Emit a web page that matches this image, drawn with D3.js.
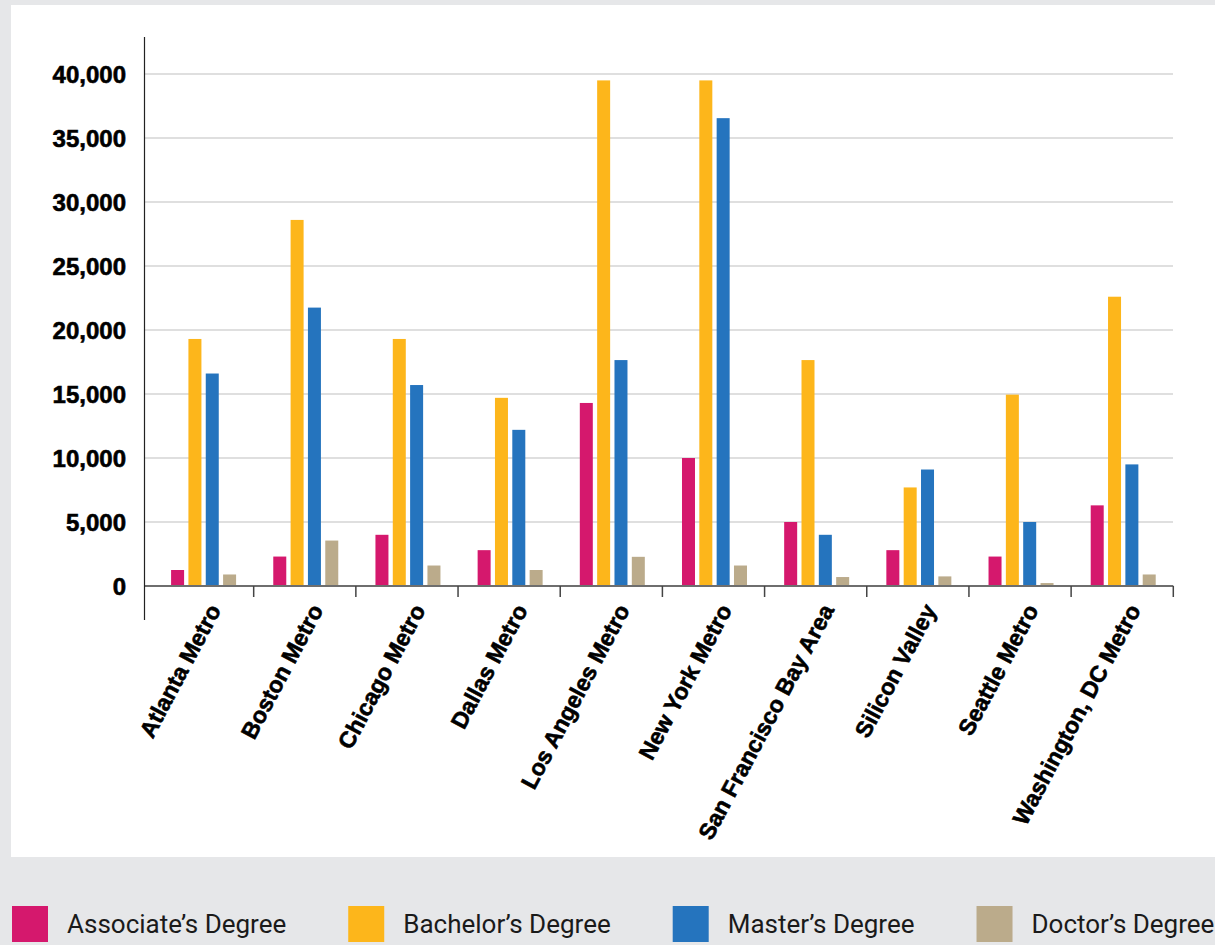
<!DOCTYPE html>
<html>
<head>
<meta charset="utf-8">
<title>Degrees by metro</title>
<style>
body {
  margin: 0;
  background: #e6e7e9;
}
.ylab, .xlab {
  font-family: "Liberation Sans", Arial, sans-serif;
  font-weight: bold;
  fill: #000;
  stroke: #000;
  stroke-width: 0.6px;
}
.leg {
  font-family: Roboto, "Noto Sans", sans-serif;
  fill: #1a1a1a;
}
</style>
<script src="https://d3js.org/d3.v7.min.js"></script>
</head>
<body>
<script>
var categories = ["Atlanta Metro", "Boston Metro", "Chicago Metro", "Dallas Metro",
  "Los Angeles Metro", "New York Metro", "San Francisco Bay Area", "Silicon Valley",
  "Seattle Metro", "Washington, DC Metro"];
var series = ["Associate’s Degree", "Bachelor’s Degree", "Master’s Degree", "Doctor’s Degree"];
var associate = [1250, 2300, 4000, 2800, 14300, 10000, 5000, 2800, 2300, 6300];
var bachelor  = [19300, 28600, 19300, 14700, 39500, 39500, 17650, 7700, 14950, 22600];
var master    = [16600, 21750, 15700, 12200, 17650, 36550, 4000, 9100, 5000, 9500];
var doctor    = [900, 3550, 1600, 1250, 2280, 1600, 700, 750, 230, 900];
var yTicks = [0, 5000, 10000, 15000, 20000, 25000, 30000, 35000, 40000];
var colors = ["#d5186d", "#fdb61b", "#2574be", "#bbab8b"];

var values = [associate, bachelor, master, doctor];
var data = categories.map(function(c, i) {
  return { name: c, vals: series.map(function(s, j) { return { key: s, value: values[j][i] }; }) };
});

var W = 1215, H = 945;
var svg = d3.select("body").append("svg")
    .attr("width", W)
    .attr("height", H);

// white panel
svg.append("rect")
    .attr("x", 11).attr("y", 5)
    .attr("width", W - 11).attr("height", 852)
    .attr("fill", "#fff");

var x0 = d3.scaleBand().domain(categories).range([151.5, 1173.3]);
var groupW = 65;
var x1 = d3.scaleBand().domain(series).range([0, groupW]).paddingInner(0.25);
var y = d3.scaleLinear().domain([0, 40000]).range([586, 74]);
var color = d3.scaleOrdinal().domain(series).range(colors);

// gridlines
svg.append("g").selectAll("line.grid")
    .data(yTicks.filter(function(d) { return d > 0; }))
  .enter().append("line")
    .attr("class", "grid")
    .attr("x1", 145).attr("x2", 1173)
    .attr("y1", function(d) { return y(d); })
    .attr("y2", function(d) { return y(d); })
    .attr("stroke", "#d4d4d4")
    .attr("stroke-width", 1.5);

// y labels
svg.append("g").selectAll("text.ylab")
    .data(yTicks)
  .enter().append("text")
    .attr("class", "ylab")
    .attr("x", 126)
    .attr("y", function(d) { return y(d); })
    .attr("dy", "0.36em")
    .attr("text-anchor", "end")
    .attr("font-size", "24px")
    .text(function(d) { return d3.format(",")(d); });

// bars
var groups = svg.append("g").selectAll("g.grp")
    .data(data)
  .enter().append("g")
    .attr("class", "grp")
    .attr("transform", function(d) {
      return "translate(" + (x0(d.name) + (x0.bandwidth() - groupW) / 2 + 1) + ",0)";
    });

groups.selectAll("rect")
    .data(function(d) { return d.vals; })
  .enter().append("rect")
    .attr("x", function(d) { return x1(d.key); })
    .attr("y", function(d) { return y(d.value); })
    .attr("width", x1.bandwidth())
    .attr("height", function(d) { return y(0) - y(d.value); })
    .attr("fill", function(d) { return color(d.key); });

// x axis baseline and ticks at band edges
svg.append("line")
    .attr("x1", 144).attr("x2", 1173.3)
    .attr("y1", y(0)).attr("y2", y(0))
    .attr("stroke", "#6e6e6e")
    .attr("stroke-width", 2);

svg.append("g").selectAll("line.tick")
    .data(categories)
  .enter().append("line")
    .attr("class", "tick")
    .attr("x1", function(d) { return x0(d) + x0.bandwidth(); })
    .attr("x2", function(d) { return x0(d) + x0.bandwidth(); })
    .attr("y1", y(0)).attr("y2", y(0) + 11)
    .attr("stroke", "#444")
    .attr("stroke-width", 1.5);

// y axis line
svg.append("line")
    .attr("x1", 144.5).attr("x2", 144.5)
    .attr("y1", 37).attr("y2", 620)
    .attr("stroke", "#222")
    .attr("stroke-width", 1.2);

// x labels
svg.append("g").selectAll("text.xlab")
    .data(categories)
  .enter().append("text")
    .attr("class", "xlab")
    .attr("font-size", "23px")
    .attr("text-anchor", "end")
    .attr("dy", "0.35em")
    .attr("transform", function(d) {
      return "translate(" + (x0(d) + x0.bandwidth() / 2 + 12) + ",606) rotate(-62)";
    })
    .text(function(d) { return d; });

// legend
var lx = 12;
series.forEach(function(s) {
  svg.append("rect")
      .attr("x", lx).attr("y", 906)
      .attr("width", 36).attr("height", 36)
      .attr("fill", color(s));
  var t = svg.append("text")
      .attr("class", "leg")
      .attr("x", lx + 55)
      .attr("y", 924)
      .attr("dy", "0.36em")
      .attr("font-size", "26px")
      .text(s);
  lx += 55 + t.node().getComputedTextLength() + 62;
});
</script>
</body>
</html>
